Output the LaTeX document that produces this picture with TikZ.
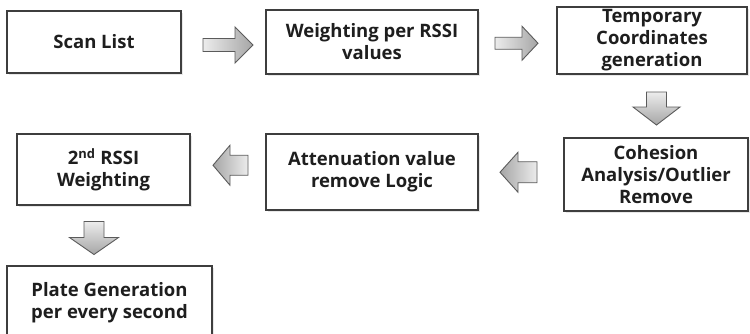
\documentclass[tikz,border=0pt]{standalone}
\usepackage{fontspec}
\setmainfont{Open Sans}
\usetikzlibrary{calc,shadows}

\definecolor{edge}{HTML}{3E3E3E}
\definecolor{ink}{HTML}{1E1E1E}

\tikzset{
  stepbox/.style={draw=edge, line width=1.3pt, fill=white, inner sep=0pt,
    align=center, text=ink, font=\fontsize{18.5}{22}\selectfont\bfseries,
    drop shadow={opacity=0.18, shadow xshift=1.5pt, shadow yshift=-1.5pt}},
  flowarrow/.style={draw=edge!85, line width=0.9pt, line join=miter},
}

% block arrows: #1 centre, #2 half length, #3 head length, #4 shaft half width, #5 head half width
\newcommand\rightblock[5]{%
  \path[flowarrow, left color=gray!15, right color=gray!70, shift={#1}]
    (-#2,-#4) -- (#2-#3,-#4) -- (#2-#3,-#5) -- (#2,0) -- (#2-#3,#5) -- (#2-#3,#4) -- (-#2,#4) -- cycle;}
\newcommand\leftblock[5]{%
  \path[flowarrow, right color=gray!15, left color=gray!70, shift={#1}]
    (#2,-#4) -- (-#2+#3,-#4) -- (-#2+#3,-#5) -- (-#2,0) -- (-#2+#3,#5) -- (-#2+#3,#4) -- (#2,#4) -- cycle;}
\newcommand\downblock[5]{%
  \path[flowarrow, top color=gray!15, bottom color=gray!70, shift={#1}]
    (-#4,-#2) -- (-#4,#2-#3) -- (-#5,#2-#3) -- (0,#2) -- (#5,#2-#3) -- (#4,#2-#3) -- (#4,-#2) -- cycle;}

\begin{document}
\begin{tikzpicture}[x=1pt, y=-1pt]
  \useasboundingbox (0,0) rectangle (750,333);
  \fill[white] (0,0) rectangle (750,333);

  % processing steps
  \node[stepbox, minimum width=174pt, minimum height=62pt] (scan)  at (94,42)      {Scan List};
  \node[stepbox, minimum width=212pt, minimum height=64pt] (wrssi) at (372,42)     {Weighting per RSSI\\values};
  \node[stepbox, minimum width=190pt, minimum height=67pt] (temp)  at (652,40.5)   {Temporary\\Coordinates\\generation};
  \node[stepbox, minimum width=184pt, minimum height=73pt] (coh)   at (656,174.5)  {Cohesion\\Analysis/Outlier\\Remove};
  \node[stepbox, minimum width=212pt, minimum height=76pt] (att)   at (372,172)    {Attenuation value\\remove Logic};
  \node[stepbox, minimum width=173pt, minimum height=71pt] (second) at (103.5,169.5) {2\textsuperscript{nd} RSSI\\Weighting};
  \node[stepbox, minimum width=205pt, minimum height=74pt] (plate) at (109.5,303) {Plate Generation\\per every second};

  % arrow positions between the steps
  \coordinate (a1) at ($(scan.east)!0.5!(wrssi.west)+(4.5,3)$);
  \coordinate (a2) at ($(wrssi.east)!0.5!(temp.west)+(-1,2)$);
  \coordinate (a3) at ($(temp.south)!0.5!(coh.north)+(2.5,2.5)$);
  \coordinate (a4) at ($(coh.west)!0.5!(att.east)+(-2.5,-1)$);
  \coordinate (a5) at ($(att.west)!0.5!(second.east)+(2.5,-5.5)$);
  \coordinate (a6) at ($(second.south)!0.5!(plate.north)+(-12.5,2.5)$);

  \rightblock{(a1)}{25}{18}{6.5}{18}
  \rightblock{(a2)}{21.5}{16}{6}{17}
  \downblock{(a3)}{16.5}{18}{10}{23.5}
  \leftblock{(a4)}{18.5}{18}{10.5}{20}
  \leftblock{(a5)}{17.5}{17}{10}{20}
  \downblock{(a6)}{16.5}{17}{10}{24.5}
\end{tikzpicture}
\end{document}
